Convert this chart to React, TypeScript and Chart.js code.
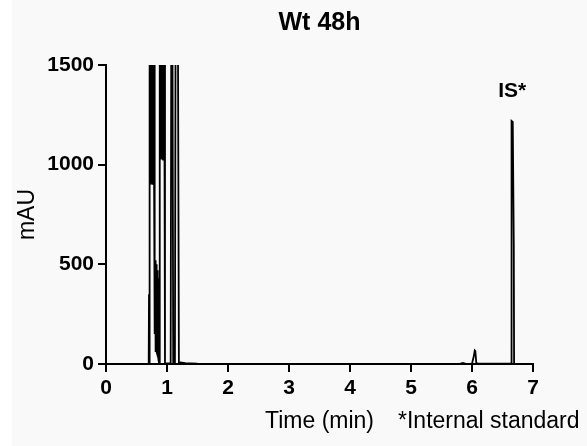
import React, { useEffect, useRef } from "react";
import { Chart, registerables } from "chart.js";

Chart.register(...registerables);

// Chromatogram trace: retention time (min) and absorbance (mAU)
const times: number[] = [
  0, 0.5, 0.68, 0.7, 0.705, 0.71,
  0.715, 0.72, 0.724, 0.728, 0.732, 0.736, 0.74, 0.744, 0.748, 0.752, 0.756, 0.76, 0.764,
  0.768, 0.772, 0.776, 0.78, 0.784, 0.788, 0.792, 0.796, 0.8,
  0.803, 0.806, 0.809, 0.812, 0.815, 0.818, 0.821, 0.824, 0.827, 0.83, 0.833, 0.836, 0.839,
  0.842, 0.845, 0.848, 0.851, 0.854, 0.857, 0.86, 0.864, 0.87,
  0.878, 0.884, 0.888, 0.892, 0.896, 0.9, 0.904, 0.908, 0.912, 0.916, 0.92, 0.924, 0.928,
  0.932, 0.936, 0.94, 0.944, 0.95, 0.955, 0.967, 0.975,
  1.0, 1.06, 1.07, 1.09, 1.102, 1.13, 1.14, 1.18, 1.195, 1.22, 1.3, 1.5, 2.0, 3.0, 4.0, 5.0,
  5.8, 5.85, 5.9, 6.0, 6.03, 6.045, 6.055, 6.07, 6.1, 6.6, 6.64, 6.645, 6.652, 6.668, 6.685,
  6.69, 6.75, 7.0,
];
const mAU: number[] = [
  0, 0, 1, 0, 350, 0,
  1600, 1600, 920, 1600, 900, 1600, 940, 1600, 910, 1600, 930, 1600, 900,
  1600, 950, 1600, 910, 1600, 930, 1600, 900, 1600,
  150, 510, 60, 520, 90, 505, 70, 500, 110, 490, 60, 480, 120,
  470, 80, 450, 100, 430, 60, 300, 20, 5,
  1600, 1600, 1030, 1600, 1040, 1600, 1030, 1600, 1035, 1600, 1030, 1600, 1040,
  1600, 1025, 1600, 1030, 1600, 1600, 0, 2,
  3, 3, 1600, 1600, 3, 3, 1600, 1600, 5, 8, 4, 2, 1, 1, 1, 1,
  1, 5, 1, 1, 40, 68, 65, 5, 2, 2, 2, 700, 1220, 1215, 600,
  2, 1, 0,
];

const xTicks: number[] = [0, 1, 2, 3, 4, 5, 6, 7];
const yTicks: number[] = [0, 500, 1000, 1500];

const chartTitle = "Wt 48h";
const xTitle = "Time (min)";
const yTitle = "mAU";
const footnote = "*Internal standard";
const peakLabel = "IS*";
const peakLabelTime = 6.66;
const peakLabelValue = 1220;

const FONT = "'Liberation Sans', Arial, Helvetica, sans-serif";

const decorPlugin = {
  id: "decor",
  beforeDraw(chart: any) {
    const { ctx, width, height } = chart;
    ctx.save();
    ctx.fillStyle = "#ffffff";
    ctx.fillRect(0, 0, width, height);
    ctx.fillStyle = "#f9f9f9";
    ctx.fillRect(12, 0, width - 12, height);
    ctx.restore();
  },
  afterDraw(chart: any) {
    const { ctx, chartArea } = chart;
    const xs = chart.scales.x;
    const ys = chart.scales.y;
    const cx = (chartArea.left + chartArea.right) / 2;
    const cy = (chartArea.top + chartArea.bottom) / 2;
    ctx.save();
    ctx.fillStyle = "#000";
    // title
    ctx.font = `bold 25px ${FONT}`;
    ctx.textAlign = "center";
    ctx.textBaseline = "alphabetic";
    ctx.fillText(chartTitle, cx, 30);
    // x title and footnote
    ctx.font = `23px ${FONT}`;
    ctx.fillText(xTitle, cx, 428);
    ctx.textAlign = "left";
    ctx.fillText(footnote, 398, 428);
    // y title
    ctx.save();
    ctx.translate(34, cy);
    ctx.rotate(-Math.PI / 2);
    ctx.textAlign = "center";
    ctx.fillText(yTitle, 0, 0);
    ctx.restore();
    // peak label
    ctx.font = `bold 21px ${FONT}`;
    ctx.textAlign = "center";
    ctx.fillText(peakLabel, xs.getPixelForValue(peakLabelTime), ys.getPixelForValue(peakLabelValue) - 24);
    ctx.restore();
  },
};

export default function App() {
  const ref = useRef<HTMLCanvasElement | null>(null);
  useEffect(() => {
    if (!ref.current) return;
    const data = times.map((t, i) => ({ x: t, y: mAU[i] }));
    const chart = new Chart(ref.current, {
      type: "line",
      data: {
        datasets: [
          {
            data,
            borderColor: "#000",
            borderWidth: 1.8,
            pointRadius: 0,
            tension: 0,
            fill: false,
          },
        ],
      },
      options: {
        animation: false,
        responsive: false,
        maintainAspectRatio: false,
        parsing: false as any,
        normalized: true,
        layout: { padding: { top: 65, right: 54, left: 0, bottom: 0 } },
        plugins: {
          legend: { display: false },
          title: { display: false },
          tooltip: { enabled: false },
        },
        scales: {
          x: {
            type: "linear",
            min: 0,
            max: 7,
            afterBuildTicks: (s: any) => {
              s.ticks = xTicks.map((v) => ({ value: v }));
            },
            afterFit: (s: any) => {
              s.height = 82;
            },
            ticks: {
              color: "#000",
              font: { family: FONT, size: 21, weight: "bold" },
              padding: 4,
              maxRotation: 0,
              autoSkip: false,
              callback: (v: any) => String(v),
            },
            grid: {
              drawOnChartArea: false,
              drawTicks: true,
              tickLength: 8,
              color: "#000",
              lineWidth: 2,
            },
            border: { display: true, color: "#000", width: 2 },
          },
          y: {
            type: "linear",
            min: 0,
            max: 1500,
            afterBuildTicks: (s: any) => {
              s.ticks = yTicks.map((v) => ({ value: v }));
            },
            afterFit: (s: any) => {
              s.width = 106;
            },
            ticks: {
              color: "#000",
              font: { family: FONT, size: 21, weight: "bold" },
              padding: 4,
              autoSkip: false,
              callback: (v: any) => String(v),
            },
            grid: {
              drawOnChartArea: false,
              drawTicks: true,
              tickLength: 8,
              color: "#000",
              lineWidth: 2,
            },
            border: { display: true, color: "#000", width: 2 },
          },
        },
      },
      plugins: [decorPlugin],
    });
    return () => chart.destroy();
  }, []);
  return (
    <div style={{ position: "fixed", left: 0, top: 0, width: 587, height: 446 }}>
      <canvas ref={ref} width={587} height={446} style={{ width: 587, height: 446, display: "block" }} />
    </div>
  );
}
